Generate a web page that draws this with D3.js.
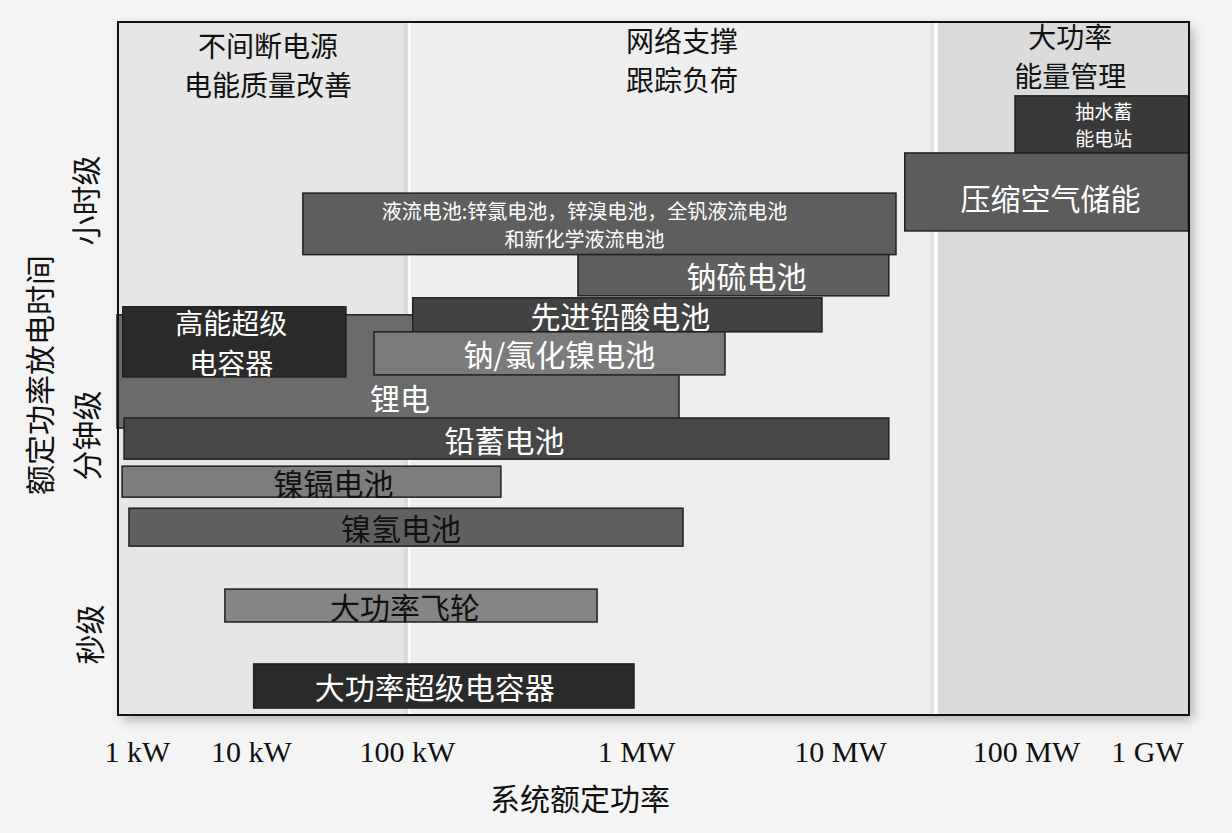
<!DOCTYPE html>
<html>
<head>
<meta charset="utf-8">
<script src="https://cdn.jsdelivr.net/npm/d3@7"></script>
<style>
  html, body { margin: 0; padding: 0; background: #f3f3f3; }
  svg { display: block; }
</style>
</head>
<body>
<svg id="chart" width="1232" height="833"></svg>
<script>
// ---------------- DATA ----------------
const technologies = ['锂电', '抽水蓄能电站', '压缩空气储能', '液流电池', '钠硫电池', '先进铅酸电池',
  '高能超级电容器', '钠/氯化镍电池', '铅蓄电池', '镍镉电池', '镍氢电池', '大功率飞轮', '大功率超级电容器'];
const labelLines = [['锂电'], ['抽水蓄', '能电站'], ['压缩空气储能'],
  ['液流电池:锌氯电池，锌溴电池，全钒液流电池', '和新化学液流电池'], ['钠硫电池'], ['先进铅酸电池'],
  ['高能超级', '电容器'], ['钠/氯化镍电池'], ['铅蓄电池'], ['镍镉电池'], ['镍氢电池'], ['大功率飞轮'], ['大功率超级电容器']];
// system rated power range (kW)
const powerMinKW = [0.668, 87300, 22300, 21.5, 558, 106, 0.75, 61.4, 0.77, 0.74, 0.85, 5.9, 10.4];
const powerMaxKW = [1625, 2.2e6, 2.2e6, 20000, 18300, 8160, 40.6, 2730, 18300, 257, 1700, 676, 980];
// discharge time at rated power (s)
const durationMinS = [67.7, 8170, 2100, 1390, 678, 362, 165, 171, 36.5, 16.7, 6.1, 1.28, 0.218];
const durationMaxS = [487, 22100, 8170, 4060, 1390, 655, 560, 362, 80.7, 31.6, 13.3, 2.52, 0.54];

const xTickKW = [1, 10, 100, 1e3, 1e4, 1e5, 1e6];
const xTickLabels = ['1 kW', '10 kW', '100 kW', '1 MW', '10 MW', '100 MW', '1 GW'];
const yTickS = [1, 60, 3600];
const yTickLabels = ['秒级', '分钟级', '小时级'];

const regionNames = [['不间断电源', '电能质量改善'], ['网络支撑', '跟踪负荷'], ['大功率', '能量管理']];
const regionFromKW = [0.68, 103, 32800];
const regionToKW = [103, 32800, 2.2e6];

const xTitle = '系统额定功率';
const yTitle = '额定功率放电时间';

// ---------------- STYLE / LAYOUT ----------------
const barFill = ['#6b6b6b', '#393939', '#5c5c5c', '#5e5e5e', '#5f5f5f', '#424242',
  '#2b2b2b', '#7b7b7b', '#474747', '#7d7d7d', '#606060', '#858585', '#2a2a2a'];
const labelColor = ['#fff', '#fff', '#fff', '#fff', '#fff', '#fff', '#fff', '#fff', '#fff', '#111', '#111', '#111', '#fff'];
const labelSize = [30, 19, 30, 20, 30, 30, 28, 30, 30, 30, 30, 30, 30];
const labelGap = [0, 27, 0, 28, 0, 0, 40, 0, 0, 0, 0, 0, 0];
const labelShift = [[2, 26], [2, 0], [4, 5], [-15, 1], [13, 0], [3, 0], [-3, 0], [10, 0], [-2, 0], [22, 0], [-5, 0], [-6, 0], [-9, 0]];
const regionFill = ['#e6e6e6', '#eeeeee', '#dbdbdb'];
const regionHeaderSize = 28;
const regionHeaderY = [[45, 84], [40, 79], [36, 75]];
const regionShiftX = [4, 9, 8];

const frame = { left: 118, right: 1189, top: 22, bottom: 715 };
const cjk = '"Noto Sans CJK SC", "Noto Sans", sans-serif';
const latin = '"Liberation Serif", "DejaVu Serif", serif';

const svg = d3.select('#chart');

// polylinear log scales (the original axis is not uniformly spaced)
const xs = d3.scaleLinear().domain(xTickKW.map(Math.log10)).range([137, 251, 407, 636, 840, 1026, 1147]);
const ys = d3.scaleLinear().domain(yTickS.map(Math.log10)).range([634, 435, 200]);
const X = v => xs(Math.log10(v));
const Y = v => ys(Math.log10(v));

const defs = svg.append('defs');
const f = defs.append('filter').attr('id', 'shadow').attr('x', '-5%').attr('y', '-5%').attr('width', '112%').attr('height', '115%');
f.append('feDropShadow').attr('dx', 4).attr('dy', 5).attr('stdDeviation', 6).attr('flood-color', '#000').attr('flood-opacity', 0.28);
const sh = defs.append('filter').attr('id', 'sepShadow').attr('x', '-200%').attr('width', '500%');
sh.append('feDropShadow').attr('dx', -2).attr('dy', 0).attr('stdDeviation', 2).attr('flood-color', '#000').attr('flood-opacity', 0.15);

// page background
svg.append('rect').attr('x', 0).attr('y', 0).attr('width', 1232).attr('height', 833).attr('fill', '#f4f4f4');

// frame shadow
svg.append('rect').attr('x', frame.left).attr('y', frame.top)
  .attr('width', frame.right - frame.left).attr('height', frame.bottom - frame.top)
  .attr('fill', '#e8e8e8').attr('filter', 'url(#shadow)');

// region panels
const regions = regionNames.map((n, i) => ({ n, i, from: regionFromKW[i], to: regionToKW[i] }));
svg.append('g').selectAll('rect').data(regions).join('rect')
  .attr('x', d => X(d.from)).attr('y', frame.top)
  .attr('width', d => X(d.to) - X(d.from)).attr('height', frame.bottom - frame.top)
  .attr('fill', d => regionFill[d.i]);
// white separators
svg.append('g').selectAll('rect').data(regions.slice(1)).join('rect')
  .attr('x', d => X(d.from) - 2).attr('y', frame.top)
  .attr('width', d => d.i === 2 ? 4 : 3).attr('height', frame.bottom - frame.top)
  .attr('fill', '#fbfbfb').attr('filter', 'url(#sepShadow)');

// region headers
const hdr = svg.append('g').selectAll('g').data(regions).join('g');
hdr.each(function (d) {
  const cx = (X(d.from) + X(d.to)) / 2 + regionShiftX[d.i];
  d3.select(this).selectAll('text').data(d.n).join('text')
    .attr('x', cx).attr('y', (t, j) => regionHeaderY[d.i][j])
    .attr('text-anchor', 'middle').attr('dominant-baseline', 'central')
    .attr('font-family', cjk).attr('font-size', regionHeaderSize).attr('fill', '#111')
    .text(t => t);
});

// bars
const bars = technologies.map((t, i) => ({
  t, i, p0: powerMinKW[i], p1: powerMaxKW[i], d0: durationMinS[i], d1: durationMaxS[i], lines: labelLines[i]
}));
const barG = svg.append('g').selectAll('g').data(bars).join('g');
barG.append('rect')
  .attr('x', d => X(d.p0)).attr('y', d => Y(d.d1))
  .attr('width', d => Math.min(X(d.p1), frame.right) - X(d.p0))
  .attr('height', d => Y(d.d0) - Y(d.d1))
  .attr('fill', d => barFill[d.i]).attr('stroke', '#202020').attr('stroke-width', 1.5);
barG.each(function (d) {
  const cx = (X(d.p0) + Math.min(X(d.p1), frame.right)) / 2 + labelShift[d.i][0];
  const cy = (Y(d.d0) + Y(d.d1)) / 2 + labelShift[d.i][1];
  const fs = labelSize[d.i];
  const lh = labelGap[d.i];
  const n = d.lines.length;
  d3.select(this).selectAll('text').data(d.lines).join('text')
    .attr('x', cx).attr('y', (t, j) => cy + (j - (n - 1) / 2) * lh)
    .attr('text-anchor', 'middle').attr('dominant-baseline', 'central')
    .attr('font-family', cjk).attr('font-size', fs).attr('fill', labelColor[d.i])
    .text(t => t);
});

// frame border
svg.append('rect').attr('x', frame.left).attr('y', frame.top)
  .attr('width', frame.right - frame.left).attr('height', frame.bottom - frame.top)
  .attr('fill', 'none').attr('stroke', '#111').attr('stroke-width', 2);

// x axis
const xAxis = d3.axisBottom(xs).tickValues(xTickKW.map(Math.log10))
  .tickFormat((d, i) => xTickLabels[i]).tickSize(0);
const gx = svg.append('g').attr('transform', `translate(0,${frame.bottom})`).call(xAxis);
gx.select('.domain').remove();
gx.selectAll('text').attr('y', 36).attr('dy', '0.35em')
  .attr('font-family', latin).attr('font-size', 30).attr('fill', '#111');

// y axis (category labels rotated)
const yAxis = d3.axisLeft(ys).tickValues(yTickS.map(Math.log10))
  .tickFormat((d, i) => yTickLabels[i]).tickSize(0);
const gy = svg.append('g').attr('transform', `translate(${frame.left},0)`).call(yAxis);
gy.select('.domain').remove();
gy.selectAll('.tick text')
  .attr('x', 0).attr('dy', 0)
  .attr('transform', (d, i) => `translate(${[-30, -33, -34][i]},0) rotate(-90)`)
  .attr('text-anchor', 'middle').attr('dominant-baseline', 'central')
  .attr('font-family', cjk).attr('font-size', 30).attr('fill', '#111');

// axis titles
svg.append('text').attr('x', 580).attr('y', 797)
  .attr('text-anchor', 'middle').attr('dominant-baseline', 'central')
  .attr('font-family', cjk).attr('font-size', 30).attr('fill', '#111').text(xTitle);
svg.append('text').attr('transform', 'translate(38,375) rotate(-90)')
  .attr('text-anchor', 'middle').attr('dominant-baseline', 'central')
  .attr('font-family', cjk).attr('font-size', 30).attr('fill', '#111').text(yTitle);
</script>
</body>
</html>
